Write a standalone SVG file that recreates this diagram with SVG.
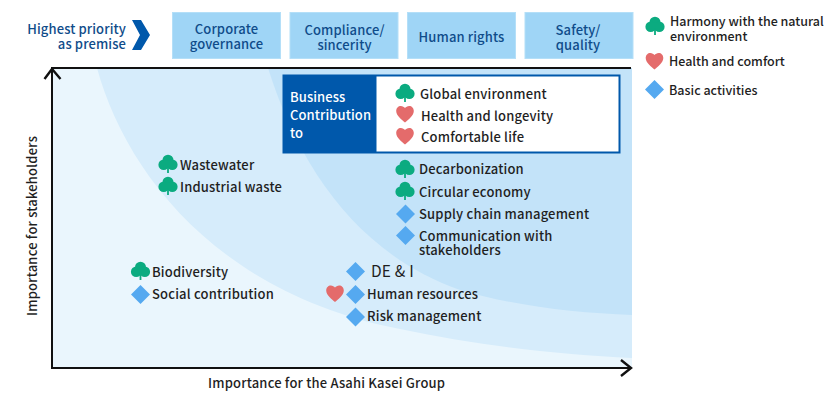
<svg xmlns="http://www.w3.org/2000/svg" width="839" height="415" viewBox="0 0 839 415">
  <style>
    text { font-family: "Noto Sans CJK JP", "Noto Sans", sans-serif; font-size: 13px; font-weight: 500; fill: #1f1f1f; letter-spacing: .18px; }
    .head { fill: #0f4c8a; text-anchor: middle; letter-spacing: .12px; }
    .right { text-anchor: end; }
    .pillar { fill: #9fd5f6; stroke: #b4dff8; stroke-width: 1; }
    .white { fill: #fff; letter-spacing: .1px; }
    .legend { font-size: 12.500px; letter-spacing: 0; }
    .axis { fill: none; stroke: #111; stroke-width: 2; }
    .arrow { fill: none; stroke: #111; stroke-width: 2.4; }
  </style>
  <defs>
    <g id="tree" fill="#0bab80">
      <circle cx="0" cy="-4.800" r="5.500"/>
      <circle cx="-4.300" cy="-.2" r="5.300"/>
      <circle cx="4.300" cy="-.2" r="5.300"/>
      <rect x="-3" y="-4" width="6" height="7"/>
      <rect x="-.9" y="1" width="1.800" height="7"/>
    </g>
    <path id="heart" fill="#e46b6b" d="M0 8.500C-3 6-8.800 1.800-8.800-3C-8.800-6-6.700-8-4.200-8C-2.400-8-.9-7-0-6C.9-7 2.400-8 4.200-8C6.700-8 8.800-6 8.800-3C8.800 1.800 3 6 0 8.500Z"/>
    <path id="diamond" fill="#55a9f0" d="M0-9.500L9.500 0L0 9.500L-9.500 0Z"/>
  </defs>

  <!-- importance map background and bands -->
  <g id="bands">
    <rect x="52" y="68" width="580" height="300" fill="#eaf6fd"/>
    <path fill="#d6ecfb" d="M97 68C125 170 215 293 400 329C480 346 560 355 632 358L632 68Z"/>
    <path fill="#c3e3f9" d="M268 68C300 170 360 255 460 290C515 306 575 313 632 315L632 68Z"/>
  </g>

  <!-- premise row -->
  <g id="premise">
    <text class="head right" y="34"><tspan x="126">Highest priority</tspan><tspan x="126" dy="15">as premise</tspan></text>
    <path fill="#0058ab" d="M132 20H141L150 35L141 50H132L140 35Z"/>
  </g>
  <g id="corporate-governance">
    <rect class="pillar" x="172.500" y="12.500" width="108" height="46"/>
    <text class="head" y="34"><tspan x="226.500">Corporate</tspan><tspan x="226.500" dy="15">governance</tspan></text>
  </g>
  <g id="compliance">
    <rect class="pillar" x="290" y="12.500" width="108" height="46"/>
    <text class="head" y="35"><tspan x="344.500">Compliance/</tspan><tspan x="344.500" dy="15">sincerity</tspan></text>
  </g>
  <g id="human-rights">
    <rect class="pillar" x="407.500" y="12.500" width="108" height="46"/>
    <text class="head" x="461.500" y="42">Human rights</text>
  </g>
  <g id="safety">
    <rect class="pillar" x="525" y="12.500" width="108" height="46"/>
    <text class="head" y="35"><tspan x="578">Safety/</tspan><tspan x="578" dy="15">quality</tspan></text>
  </g>

  <!-- legend -->
  <g id="legend-nature">
    <use href="#tree" x="655" y="27"/>
    <text class="legend" y="26"><tspan x="670">Harmony with the natural</tspan><tspan x="670" dy="15">environment</tspan></text>
  </g>
  <g id="legend-health">
    <use href="#heart" x="654.500" y="61"/>
    <text class="legend" x="669" y="66">Health and comfort</text>
  </g>
  <g id="legend-basic">
    <use href="#diamond" x="654.500" y="89.500"/>
    <text class="legend" x="669" y="95">Basic activities</text>
  </g>

  <!-- axes -->
  <g id="connectors">
    <path class="axis" d="M52 369V68H631"/>
    <path class="axis" d="M51 368H631"/>
    <path class="arrow" d="M44.500 79L52 69L60.500 79"/>
    <path class="arrow" d="M621 360L631 368L621 376"/>
  </g>
  <text transform="translate(37 316) rotate(-90)">Importance for stakeholders</text>
  <text x="208" y="388">Importance for the Asahi Kasei Group</text>

  <!-- business contribution panel -->
  <g id="business-contribution">
    <rect x="282.500" y="74.500" width="338" height="79" fill="#0058ab"/>
    <rect x="376.500" y="76.500" width="242" height="75" fill="#fff"/>
    <text class="white" y="102"><tspan x="290">Business</tspan><tspan x="290" dy="18">Contribution</tspan><tspan x="290" dy="18">to</tspan></text>
    <use href="#tree" x="405" y="94"/>
    <use href="#heart" x="405" y="114"/>
    <use href="#heart" x="405" y="136"/>
    <text x="420" y="99">Global environment</text>
    <text x="421" y="121">Health and longevity</text>
    <text x="421" y="142">Comfortable life</text>
  </g>

  <!-- material issues -->
  <g id="wastewater"><use href="#tree" x="168" y="165"/><text x="180" y="170">Wastewater</text></g>
  <g id="industrial-waste"><use href="#tree" x="168" y="187"/><text x="180" y="192">Industrial waste</text></g>
  <g id="decarbonization"><use href="#tree" x="405" y="170"/><text x="419" y="174">Decarbonization</text></g>
  <g id="circular-economy"><use href="#tree" x="405" y="192"/><text x="419" y="197">Circular economy</text></g>
  <g id="supply-chain"><use href="#diamond" x="405.500" y="214"/><text x="419" y="219">Supply chain management</text></g>
  <g id="communication"><use href="#diamond" x="405.500" y="235.500"/><text y="241"><tspan x="419">Communication with</tspan><tspan x="419" dy="14">stakeholders</tspan></text></g>
  <g id="biodiversity"><use href="#tree" x="140.500" y="272"/><text x="152" y="277">Biodiversity</text></g>
  <g id="social-contribution"><use href="#diamond" x="140.500" y="294.500"/><text x="152" y="299">Social contribution</text></g>
  <g id="de-i"><use href="#diamond" x="355.500" y="271.500"/><text x="371" y="277" style="font-size:15.500px;font-weight:400">DE &amp; I</text></g>
  <g id="human-resources"><use href="#heart" x="335" y="293.500"/><use href="#diamond" x="355.500" y="294.500"/><text x="367" y="299">Human resources</text></g>
  <g id="risk-management"><use href="#diamond" x="355.500" y="317"/><text x="367" y="321">Risk management</text></g>
</svg>
